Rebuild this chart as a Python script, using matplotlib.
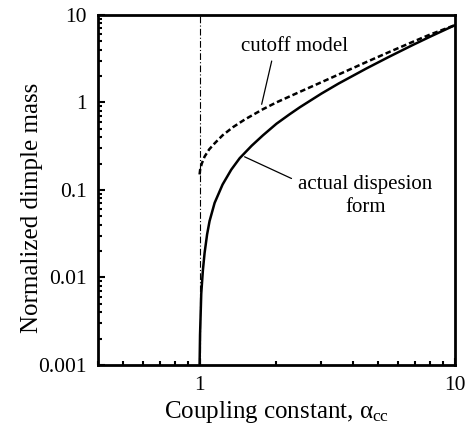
import matplotlib
matplotlib.use("Agg")
import matplotlib.pyplot as plt
from matplotlib.ticker import LogLocator, NullFormatter, FixedLocator, FixedFormatter

# Data
actual_x = [1.0, 1.004, 1.015, 1.03, 1.046, 1.07, 1.094, 1.145, 1.23, 1.33, 1.435,
            1.6, 1.77, 2.0, 2.25, 2.47, 3.0, 3.5, 4.5, 5.5, 6.84, 8.0, 10.0]
actual_y = [0.001, 0.0022, 0.0065, 0.012, 0.019, 0.031, 0.044, 0.071, 0.115, 0.17, 0.23,
            0.32, 0.42, 0.57, 0.73, 0.88, 1.26, 1.64, 2.44, 3.3, 4.53, 5.64, 7.63]

cutoff_x = [1.0, 1.005, 1.02, 1.046, 1.09, 1.145, 1.23, 1.35, 1.5, 1.77, 2.0,
            2.47, 3.0, 3.5, 4.5, 5.5, 6.84, 8.0, 10.0]
cutoff_y = [0.15, 0.17, 0.2, 0.24, 0.29, 0.34, 0.42, 0.52, 0.635, 0.835, 1.0,
            1.32, 1.7, 2.08, 2.89, 3.74, 4.92, 5.97, 7.63]

cutoff_x0 = 1.0
x_ticks = [1, 10]
x_tick_labels = ["1", "10"]
y_ticks = [0.001, 0.01, 0.1, 1, 10]
y_tick_labels = ["0.001", "0.01", "0.1", "1", "10"]

plt.rcParams['font.family'] = ['Liberation Serif', 'DejaVu Serif']
plt.rcParams['mathtext.fontset'] = 'custom'
plt.rcParams['mathtext.rm'] = 'Liberation Serif'
plt.rcParams['mathtext.it'] = 'Liberation Serif'

fig = plt.figure(figsize=(4.71, 4.37), dpi=100)
ax = fig.add_axes([0.208, 0.165, 0.758, 0.801])

ax.set_xscale('log')
ax.set_yscale('log')
ax.set_xlim(0.4, 10)
ax.set_ylim(0.001, 10)

ax.axvline(cutoff_x0, color='black', lw=0.8, linestyle=(0, (6, 2, 1, 2)))
ax.plot(cutoff_x, cutoff_y, color='black', lw=1.8, linestyle=(0, (2.2, 1.2)))
ax.plot(actual_x, actual_y, color='black', lw=1.8, solid_capstyle='butt')

for s in ax.spines.values():
    s.set_linewidth(2)

ax.xaxis.set_major_locator(FixedLocator(x_ticks))
ax.xaxis.set_major_formatter(FixedFormatter(x_tick_labels))
ax.xaxis.set_minor_locator(LogLocator(base=10, subs=range(2, 10)))
ax.xaxis.set_minor_formatter(NullFormatter())
ax.yaxis.set_major_locator(FixedLocator(y_ticks))
ax.yaxis.set_major_formatter(FixedFormatter(y_tick_labels))
ax.yaxis.set_minor_locator(LogLocator(base=10, subs=range(2, 10)))
ax.yaxis.set_minor_formatter(NullFormatter())

ax.tick_params(which='both', direction='in', top=False, right=False, width=1.5)
ax.tick_params(which='major', length=5, labelsize=15.5, pad=8)
ax.tick_params(which='minor', length=3)

ax.set_xlabel(r'Coupling constant, $\alpha_{\mathrm{cc}}$', fontsize=18, labelpad=3)
ax.set_ylabel('Normalized dimple mass', fontsize=18)
ax.yaxis.set_label_coords(-0.155, 0.45)

ax.annotate('cutoff model', xy=(1.75, 0.95), xytext=(2.35, 4.4),
            fontsize=15, ha='center', va='center',
            arrowprops=dict(arrowstyle='-', color='black', lw=0.9, shrinkA=2, shrinkB=0,
                            relpos=(0.3, 0.0)))
ax.annotate('actual dispesion\nform', xy=(1.45, 0.25), xytext=(4.45, 0.085),
            fontsize=15, ha='center', va='center', linespacing=1.25,
            arrowprops=dict(arrowstyle='-', color='black', lw=0.9, shrinkA=3, shrinkB=3,
                            relpos=(0.0, 0.85)))

fig.savefig('out.png', dpi=100)
